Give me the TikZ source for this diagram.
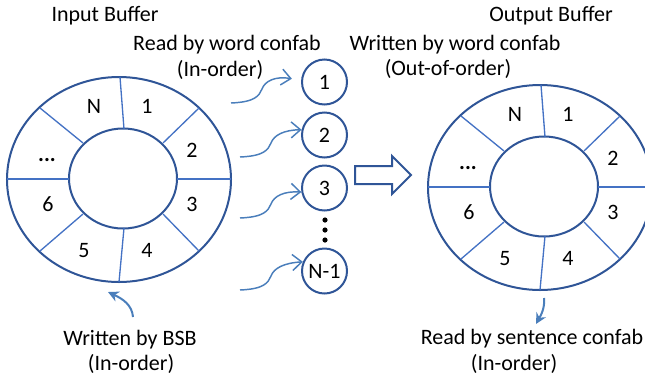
\documentclass[tikz,border=0pt]{standalone}
\usepackage{fontspec}
\setmainfont{Carlito}
\usetikzlibrary{arrows.meta,calc}

\definecolor{ringblue}{RGB}{47,85,151}
\definecolor{cellblue}{RGB}{68,114,196}
\definecolor{linkblue}{RGB}{74,126,187}

% ring buffer with N slots, #1 = prefix for node names
\newcommand{\bufring}[1]{%
    \draw[ring] (119,179.5) ellipse [x radius=112, y radius=102.5];
    \draw[ring] (123,178.5) ellipse [x radius=54, y radius=50];
    % slot borders
    \draw[slot] (124,129) -- (120,77);
    \draw[slot] (163,143) -- (199,108);
    \draw[slot] (177,179) -- (231,179);
    \draw[slot] (163,214) -- (199,251);
    \draw[slot] (124,228) -- (119,282);
    \draw[slot] (83,214) -- (40,251);
    \draw[slot] (69,179) -- (7,179);
    \draw[slot] (83,143) -- (40,108);
    % slot numbers
    \node[label] (#1-n) at (94,109) {N};
    \node[label] (#1-1) at (147,109) {1};
    \node[label] (#1-2) at (192,153) {2};
    \node[label] (#1-3) at (192,207) {3};
    \node[label] (#1-4) at (147,253) {4};
    \node[label] (#1-5) at (84,253) {5};
    \node[label] (#1-6) at (48,207) {6};
    \node[label] (#1-dots) at (47,157) {\textbf{...}};
}

\begin{document}
\begin{tikzpicture}[x=0.75pt, y=-0.75pt,
    every node/.style={font=\fontsize{16.5}{19.8}\selectfont},
    label/.style={inner sep=0pt, text height=0.62em, text depth=0pt},
    txt/.style={inner sep=0pt, text height=0.75em, text depth=0.2em},
    ring/.style={ringblue, line width=1.5pt},
    slot/.style={cellblue, line width=1pt},
    word/.style={circle, draw=ringblue, line width=1.5pt, minimum size=33.75pt, inner sep=0pt},
    curl/.style={linkblue, line width=1.1pt, -{Straight Barb[length=7pt, width=12pt]}},
    feed/.style={linkblue, line width=1.5pt, -{Stealth[length=8pt, width=8pt]}},
    blockarrow/.style={ringblue, line width=1.5pt, fill=white, line join=miter}]
    \useasboundingbox (0,0) rectangle (645,379);

    % input and output buffers
    \begin{scope}
        \bufring{in}
    \end{scope}
    \begin{scope}[shift={(421,8)}]
        \bufring{out}
    \end{scope}

    % titles
    \node[txt] (inbuf) at (105,18) {Input Buffer};
    \node[txt] (outbuf) at (551,18) {Output Buffer};
    \node[txt] (rdword) at (227,47) {Read by word confab};
    \node[txt] (rdorder) at (220,73) {(In-order)};
    \node[txt] (wrword) at (455,47) {Written by word confab};
    \node[txt] (wrorder) at (448,72) {(Out-of-order)};
    \node[txt] (wrbsb) at (130,342) {Written by BSB};
    \node[txt] (bsborder) at (131,367) {(In-order)};
    \node[txt] (rdsent) at (532,341) {Read by sentence confab};
    \node[txt] (sentorder) at (514,367) {(In-order)};

    % words handed to word confab
    \node[word] (c1) at (324.5,82) {1};
    \node[word] (c2) at (324.5,135) {2};
    \node[word] (c3) at (324.5,188) {3};
    \node[word] (c4) at (324.5,271) {N-1};
    \foreach \y in {220,230,240}
        \fill (325,\y) circle [radius=2.6];

    % reads from the input buffer
    \coordinate (w1) at (231,103);
    \coordinate (w2) at (240,157);
    \coordinate (w3) at (240,218);
    \coordinate (w4) at (240,290);
    \coordinate (r1) at ([xshift=-7pt]c1.172);
    \coordinate (r2) at (c2.167);
    \coordinate (r3) at (c3.190);
    \coordinate (r4) at (c4.157);
    \foreach \i in {1,...,4}
        \draw[curl] (w\i) .. controls ($(w\i)+(24,-1)$) and ($(w\i)+(28,-7)$) .. ($(w\i)+(31,-14)$)
            .. controls ($(w\i)+(34,-22)$) and ($(w\i)+(44,-27)$) .. (r\i);

    % block arrow between the buffers
    \draw[blockarrow] (355,166) -- (392,166) -- (392,156) -- (411,175) -- (392,194) -- (392,184) -- (355,184) -- cycle;

    % BSB writes, sentence confab reads
    \coordinate (bsbtail) at (133,317);
    \coordinate (bsbhead) at (108,292);
    \draw[feed] (bsbtail) .. controls (132,305) and (123,299) .. (bsbhead);
    \coordinate (senttail) at (544,298);
    \coordinate (senthead) at (536,324);
    \draw[feed] (senttail) .. controls (545,308) and (541,315) .. (senthead);
\end{tikzpicture}
\end{document}
